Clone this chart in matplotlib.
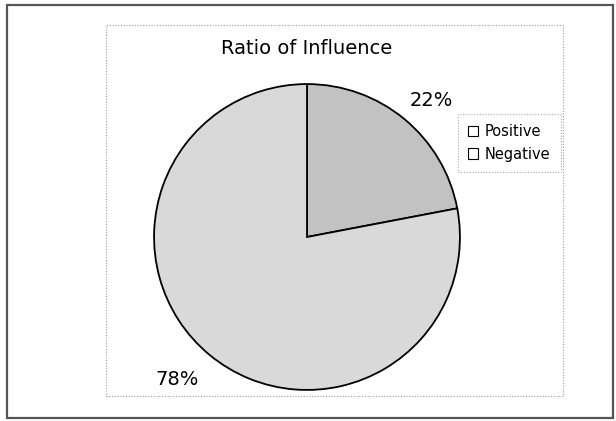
import matplotlib
matplotlib.use("Agg")
import matplotlib.pyplot as plt
from matplotlib.patches import Rectangle, Patch

# Data
labels = ["Positive", "Negative"]
shares = [22, 78]
pct_labels = ["22%", "78%"]
colors = ["#c2c2c2", "#d9d9d9"]

W, H = 616, 421
fig = plt.figure(figsize=(W / 100, H / 100), dpi=100)
fig.patch.set_facecolor("white")

# outer chart frame and dotted plot-area frame (pixel coords -> figure fraction)
def px_rect(x0, y0, x1, y1, **kw):
    return Rectangle((x0 / W, 1 - y1 / H), (x1 - x0) / W, (y1 - y0) / H,
                     transform=fig.transFigure, fill=False, **kw)

fig.patches.append(px_rect(7, 5, 613, 418, edgecolor="#555555", linewidth=1.6))
fig.patches.append(px_rect(106, 25, 563, 396, edgecolor="#999999", linewidth=0.8,
                           linestyle=(0, (1, 1.5))))

# pie axes: centre (307, 237), radius 156 px
cx, cy, r = 307, 237, 156
ax = fig.add_axes([(cx - r) / W, (H - cy - r) / H, 2 * r / W, 2 * r / H])
ax.pie(shares, colors=colors, startangle=90, counterclock=False, radius=1,
       wedgeprops=dict(edgecolor="black", linewidth=1.3))
ax.set_xlim(-1.02, 1.02)
ax.set_ylim(-1.02, 1.02)
ax.set_aspect("equal")
ax.axis("off")

ax.text(0.81, 0.89, pct_labels[0], fontsize=14, ha="center", va="center")
ax.text(-0.85, -0.93, pct_labels[1], fontsize=14, ha="center", va="center")

fig.text(cx / W, 1 - 49 / H, "Ratio of Influence", fontsize=14,
         ha="center", va="center")

handles = [Patch(facecolor="white", edgecolor="black", linewidth=0.8) for _ in labels]
leg = fig.legend(handles, labels, loc="upper left",
                 bbox_to_anchor=(458 / W, 1 - 114 / H), fontsize=10.5,
                 frameon=True, fancybox=False, handlelength=0.7, handleheight=0.7,
                 handletextpad=0.45, borderpad=0.7, labelspacing=0.5,
                 borderaxespad=0)
leg.get_frame().set_edgecolor("#999999")
leg.get_frame().set_linewidth(0.8)
leg.get_frame().set_linestyle((0, (1, 1.5)))

fig.savefig("out.png", dpi=100)
